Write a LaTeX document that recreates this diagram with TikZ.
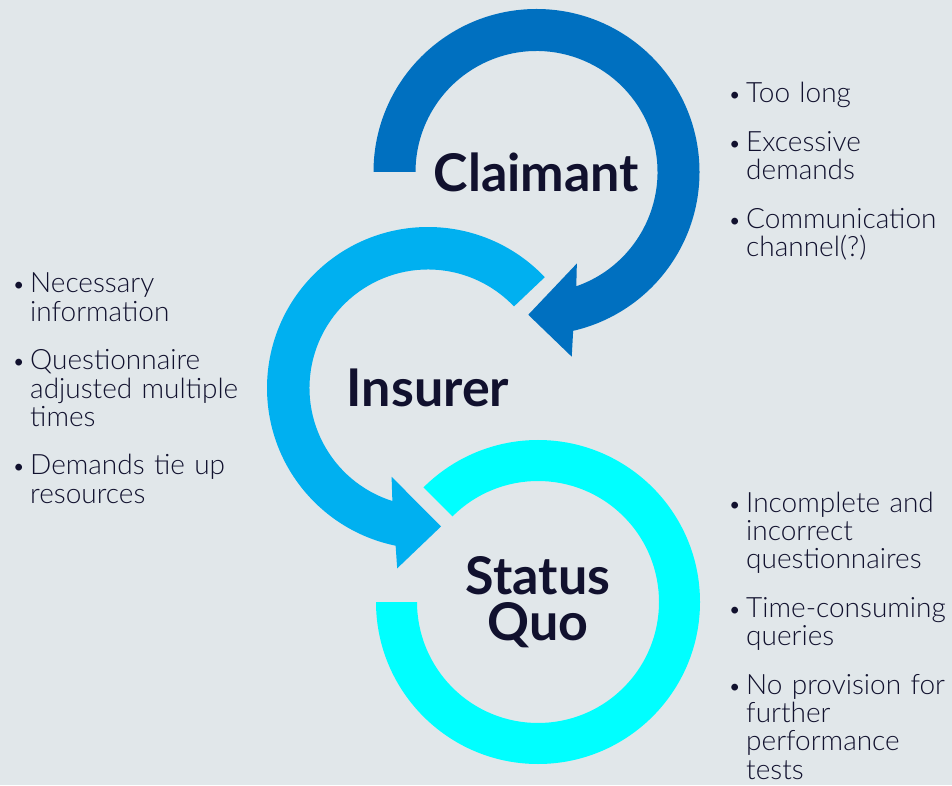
\documentclass[tikz,border=0pt]{standalone}
\usepackage{fontspec}
\setmainfont{Lato-Light.ttf}[BoldFont=Lato-Bold.ttf]
\usetikzlibrary{calc}
\definecolor{claimantblue}{RGB}{0,112,192}
\definecolor{insurerblue}{RGB}{0,176,240}
\definecolor{statuscyan}{RGB}{0,255,255}
\definecolor{ink}{RGB}{17,17,46}
\definecolor{paper}{RGB}{225,231,234}
\newcommand\bitem[1]{\hangindent=18pt\hangafter=1\noindent\makebox[18pt][l]{\fontsize{23}{23}\selectfont\textbullet}#1\par\vskip 20pt}
\tikzset{
  title/.style={text=ink,font=\fontsize{52}{46}\selectfont\bfseries,align=center,inner sep=0pt},
  notes/.style={text=ink,font=\fontsize{28}{28.4}\selectfont,text width=300pt,align=left,inner sep=0pt,anchor=base west}
}
\begin{document}
\begin{tikzpicture}[x=1pt,y=1pt]
\fill[paper] (0,0) rectangle (952,785);
\useasboundingbox (0,0) rectangle (952,785);
\node[title] (claimant) at (536.5,613) {Claimant};
\node[title] (insurer) at (428,397) {Insurer};
\node[title] (statusquo) at (538,183) {Status\\Quo};
\fill[claimantblue] ($(claimant.center)+(180:163pt)$) arc[start angle=180,end angle=-77,radius=163pt]
  -- ($(claimant.center)+(-79.2:188pt)$) -- ($(claimant.center)+(-93.3:143pt)$)
  -- ($(claimant.center)+(-66.2:100pt)$) -- ($(claimant.center)+(-70.8:121pt)$)
  arc[start angle=-70.8,end angle=180,radius=121pt] -- cycle;
\fill[insurerblue] ($(insurer.center)+(43.5:161pt)$) arc[start angle=43.5,end angle=258.4,radius=161pt]
  -- ($(insurer.center)+(260.3:183pt)$) -- ($(insurer.center)+(275.4:139pt)$)
  -- ($(insurer.center)+(247.7:96pt)$) -- ($(insurer.center)+(252.5:118.5pt)$)
  arc[start angle=252.5,end angle=43.5,radius=118.5pt] -- cycle;
\fill[statuscyan] ($(statusquo.center)+(180:162pt)$) arc[start angle=180,end angle=495,radius=162pt]
  -- ($(statusquo.center)+(135:121pt)$) arc[start angle=495,end angle=180,radius=121pt] -- cycle;
\node[notes] (claimantnotes) at (728,682) {\bitem{Too long}\bitem{Excessive\newline demands}\bitem{Communication\newline channel(?)}};
\node[notes] (insurernotes) at (12,492) {\bitem{Necessary\newline information}\bitem{Questionnaire\newline adjusted multiple\newline times}\bitem{Demands tie up\newline resources}};
\node[notes] (statusnotes) at (728,273) {\bitem{Incomplete and\newline incorrect\newline questionnaires}\bitem{Time-consuming\newline queries}\bitem{No provision for\newline further\newline performance\newline tests}};
\end{tikzpicture}
\end{document}
